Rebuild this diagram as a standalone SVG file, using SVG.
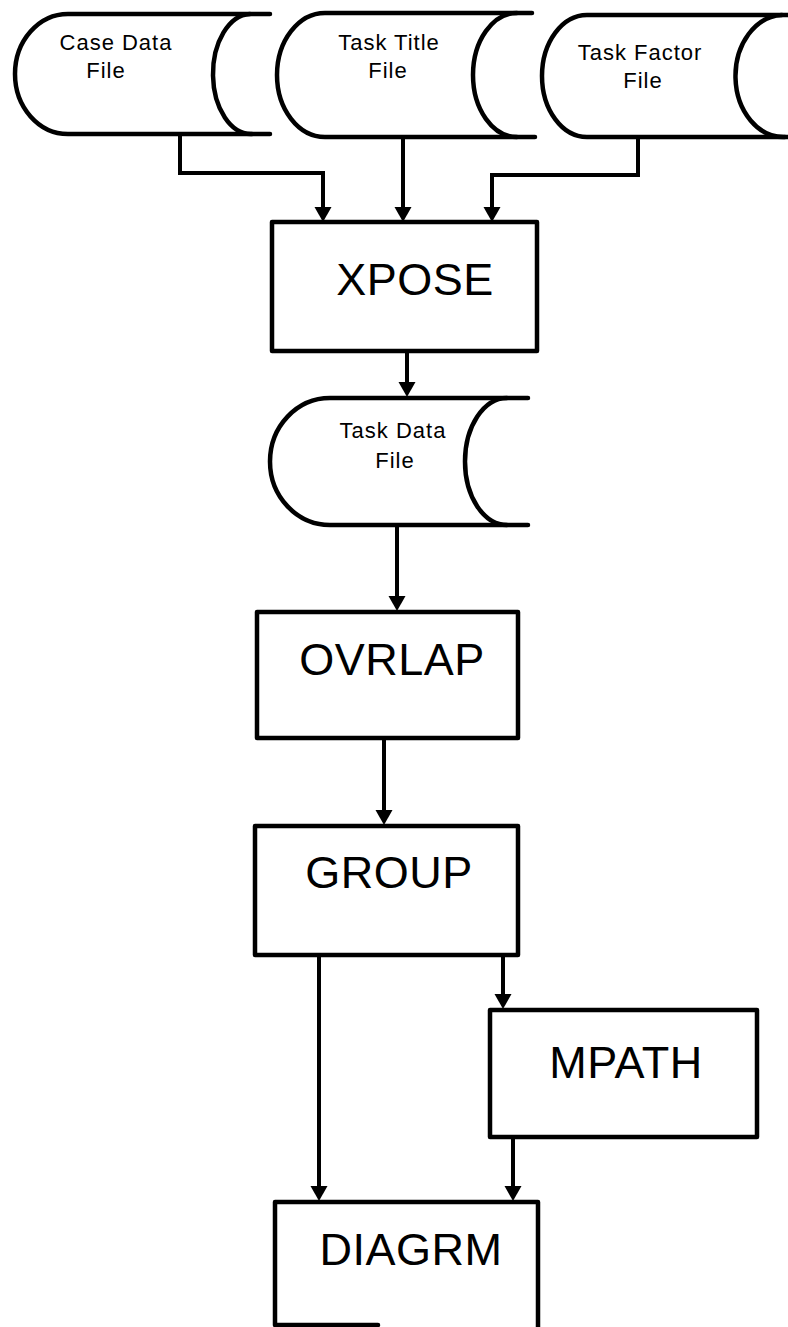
<svg xmlns="http://www.w3.org/2000/svg" width="788" height="1327" viewBox="0 0 788 1327">
  <style>
    .shape { fill: #fff; stroke: #000; stroke-width: 4.5; stroke-linejoin: round; stroke-linecap: round; }
    .arc { fill: none; stroke: #000; stroke-width: 4.5; stroke-linecap: round; }
    .edge { fill: none; stroke: #000; stroke-width: 4; stroke-linejoin: miter; marker-end: url(#arrow); }
    .flabel { font-family: "Liberation Sans", Arial, Helvetica, sans-serif; font-size: 22px; letter-spacing: 1px; fill: #000; text-anchor: middle; }
    .plabel { font-family: "Liberation Sans", Arial, Helvetica, sans-serif; font-size: 45px; letter-spacing: 0.5px; fill: #000; text-anchor: middle; }
  </style>
  <defs>
    <marker id="arrow" markerUnits="userSpaceOnUse" markerWidth="18" markerHeight="18" refX="10" refY="8.5" orient="auto">
      <path d="M0,0 L15,8.5 L0,17 Z" fill="#000"/>
    </marker>
  </defs>

  <rect width="788" height="1327" fill="#fff"/>

  <!-- stored-data files -->
  <g id="case-data-file">
    <path class="shape" d="M270 14 H68 A53 60 0 0 0 68 134 H270"/>
    <path class="arc" d="M250 14 A38 60 0 0 0 252 134"/>
    <text class="flabel" x="116" y="50">Case Data</text>
    <text class="flabel" x="106" y="78">File</text>
  </g>

  <g id="task-title-file">
    <path class="shape" d="M532 13 H325 A48 62 0 0 0 325 137 H535"/>
    <path class="arc" d="M517 13 A44 62 0 0 0 517 137"/>
    <text class="flabel" x="389" y="50">Task Title</text>
    <text class="flabel" x="388" y="78">File</text>
  </g>

  <g id="task-factor-file">
    <path class="shape" d="M790 15 H587 A45 61 0 0 0 587 137 H790"/>
    <path class="arc" d="M782 15 A48 61 0 0 0 785 137"/>
    <text class="flabel" x="640" y="60">Task Factor</text>
    <text class="flabel" x="643" y="88">File</text>
  </g>

  <g id="task-data-file">
    <path class="shape" d="M528 398 H330 A60 63.5 0 0 0 330 525 H528"/>
    <path class="arc" d="M507 398 A42 63.5 0 0 0 507 525"/>
    <text class="flabel" x="393" y="438">Task Data</text>
    <text class="flabel" x="395" y="468">File</text>
  </g>

  <!-- programs -->
  <g id="xpose">
    <rect class="shape" x="272" y="222" width="265" height="129"/>
    <text class="plabel" x="415" y="295">XPOSE</text>
  </g>

  <g id="ovrlap">
    <rect class="shape" x="257" y="612" width="261" height="126"/>
    <text class="plabel" x="392" y="675">OVRLAP</text>
  </g>

  <g id="group">
    <rect class="shape" x="255" y="826" width="263" height="129"/>
    <text class="plabel" x="389" y="888">GROUP</text>
  </g>

  <g id="mpath">
    <rect class="shape" x="490" y="1010" width="267" height="127"/>
    <text class="plabel" x="626" y="1078">MPATH</text>
  </g>

  <g id="diagrm">
    <!-- box runs off the bottom edge; only part of its base is drawn -->
    <path class="shape" d="M378 1325 H275 V1202 H538 V1330"/>
    <text class="plabel" x="411" y="1265">DIAGRM</text>
  </g>

  <!-- connectors -->
  <g id="connectors">
    <path class="edge" d="M180 134 V173 H323 V217"/>
    <path class="edge" d="M403 137 V217"/>
    <path class="edge" d="M638 137 V175 H492 V217"/>
    <path class="edge" d="M407 351 V392"/>
    <path class="edge" d="M397 525 V606"/>
    <path class="edge" d="M384 738 V820"/>
    <path class="edge" d="M319 955 V1196"/>
    <path class="edge" d="M503 955 V1004"/>
    <path class="edge" d="M513 1137 V1196"/>
  </g>
</svg>
